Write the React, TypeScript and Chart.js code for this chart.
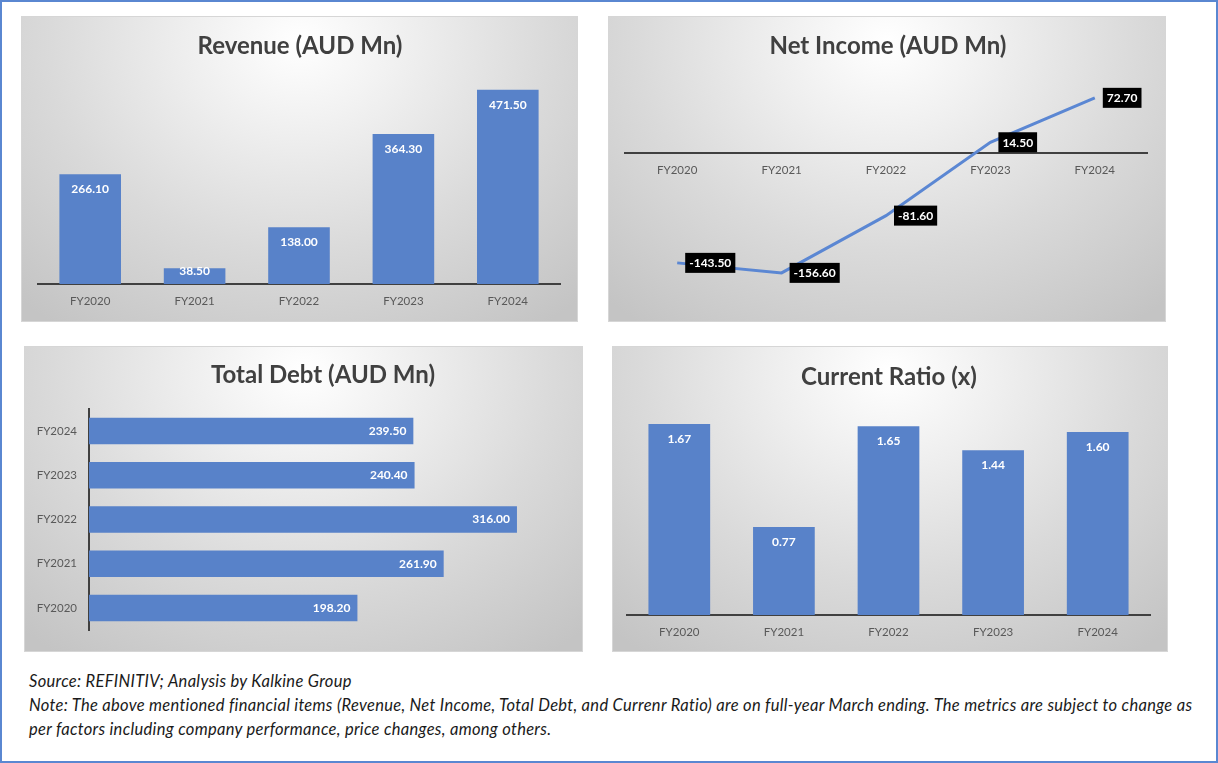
import React, { useEffect, useRef } from 'react';
import { Chart, registerables } from 'chart.js';

Chart.register(...registerables);
Chart.defaults.font.family = 'Lato, "Open Sans", sans-serif';

// ---- Data ----
const categories = ['FY2020', 'FY2021', 'FY2022', 'FY2023', 'FY2024'];
const revenue = [266.1, 38.5, 138.0, 364.3, 471.5];
const netIncome = [-143.5, -156.6, -81.6, 14.5, 72.7];
const totalDebt = [198.2, 261.9, 316.0, 240.4, 239.5];
const currentRatio = [1.67, 0.77, 1.65, 1.44, 1.6];

const titles = ['Revenue (AUD Mn)', 'Net Income (AUD Mn)', 'Total Debt (AUD Mn)', 'Current Ratio (x)'];
const sourceText = 'Source: REFINITIV; Analysis by Kalkine Group';
const noteLine1 =
  'Note: The above mentioned financial items (Revenue, Net Income, Total Debt, and Currenr Ratio) are on full-year March ending. The metrics are subject to change as';
const noteLine2 = 'per factors including company performance, price changes, among others.';

const BAR = '#5882c9';
const LINE = '#5b87d3';
const AXIS = '#404040';
const TICK = '#595959';
const tickFont = { size: 11.5 };

// ---- Plugins ----
const barLabelPlugin = {
  id: 'barLabels',
  afterDatasetsDraw(chart: any, _args: any, opts: any) {
    const ctx = chart.ctx;
    const meta = chart.getDatasetMeta(0);
    const data = chart.data.datasets[0].data;
    ctx.save();
    ctx.font = 'bold 12px Lato, "Open Sans", sans-serif';
    ctx.fillStyle = '#ffffff';
    ctx.textBaseline = 'middle';
    meta.data.forEach((el: any, i: number) => {
      const text = Number(data[i]).toFixed(opts.decimals);
      if (opts.horizontal) {
        ctx.textAlign = 'right';
        ctx.fillText(text, el.x - 7, el.y);
      } else {
        ctx.textAlign = 'center';
        const y = Math.min(el.y + 15, el.base - 13);
        ctx.fillText(text, el.x, y);
      }
    });
    ctx.restore();
  },
};

const lineLabelPlugin = {
  id: 'lineLabels',
  afterDatasetsDraw(chart: any) {
    const ctx = chart.ctx;
    const meta = chart.getDatasetMeta(0);
    const data = chart.data.datasets[0].data;
    ctx.save();
    ctx.font = 'bold 12px Lato, "Open Sans", sans-serif';
    ctx.textBaseline = 'middle';
    ctx.textAlign = 'left';
    meta.data.forEach((el: any, i: number) => {
      const text = Number(data[i]).toFixed(2);
      const w = ctx.measureText(text).width + 8;
      const h = 20;
      const x0 = el.x + 8;
      const y0 = el.y - h / 2;
      ctx.fillStyle = '#000000';
      ctx.fillRect(x0, y0, w, h);
      ctx.fillStyle = '#ffffff';
      ctx.fillText(text, x0 + 4, el.y + 0.5);
    });
    ctx.restore();
  },
};

// ---- Chart configs ----
function revenueConfig(): any {
  return {
    type: 'bar',
    data: {
      labels: categories,
      datasets: [{ data: revenue, backgroundColor: BAR, categoryPercentage: 1, barPercentage: 0.59 }],
    },
    options: {
      animation: false,
      responsive: false,
      devicePixelRatio: 1,
      layout: { padding: { left: 16, right: 17, top: 61, bottom: 0 } },
      plugins: { legend: { display: false }, tooltip: { enabled: false }, barLabels: { decimals: 2 } },
      scales: {
        x: {
          grid: { display: false, drawTicks: false },
          border: { display: true, color: AXIS, width: 2 },
          ticks: { color: TICK, font: tickFont, padding: 10 },
          afterFit: (s: any) => { s.height = 37; },
        },
        y: { display: false, min: 0, max: 500 },
      },
    },
    plugins: [barLabelPlugin],
  };
}

function netIncomeConfig(): any {
  return {
    type: 'line',
    data: {
      labels: categories,
      datasets: [{ data: netIncome, borderColor: LINE, borderWidth: 3, pointRadius: 0, tension: 0 }],
    },
    options: {
      animation: false,
      responsive: false,
      devicePixelRatio: 1,
      layout: { padding: { left: 16, right: 18, top: 60, bottom: 15 } },
      plugins: { legend: { display: false }, tooltip: { enabled: false } },
      scales: {
        x: {
          position: { y: 0 },
          offset: true,
          grid: { display: false, drawTicks: false },
          border: { display: true, color: AXIS, width: 2 },
          ticks: { color: TICK, font: tickFont, padding: 10 },
        },
        y: { display: false, min: -200, max: 100 },
      },
    },
    plugins: [lineLabelPlugin],
  };
}

function debtConfig(): any {
  return {
    type: 'bar',
    data: {
      labels: categories,
      datasets: [{ data: totalDebt, backgroundColor: BAR, categoryPercentage: 1, barPercentage: 0.6 }],
    },
    options: {
      indexAxis: 'y',
      animation: false,
      responsive: false,
      devicePixelRatio: 1,
      layout: { padding: { left: 0, right: 19, top: 62, bottom: 21 } },
      plugins: { legend: { display: false }, tooltip: { enabled: false }, barLabels: { decimals: 2, horizontal: true } },
      scales: {
        y: {
          reverse: true,
          grid: { display: false, drawTicks: false },
          border: { display: true, color: AXIS, width: 2 },
          ticks: { color: TICK, font: tickFont, padding: 12 },
          afterFit: (s: any) => { s.width = 64; },
        },
        x: { display: false, min: 0, max: 350 },
      },
    },
    plugins: [barLabelPlugin],
  };
}

function ratioConfig(): any {
  return {
    type: 'bar',
    data: {
      labels: categories,
      datasets: [{ data: currentRatio, backgroundColor: BAR, categoryPercentage: 1, barPercentage: 0.59 }],
    },
    options: {
      animation: false,
      responsive: false,
      devicePixelRatio: 1,
      layout: { padding: { left: 14, right: 17, top: 62, bottom: 0 } },
      plugins: { legend: { display: false }, tooltip: { enabled: false }, barLabels: { decimals: 2 } },
      scales: {
        x: {
          grid: { display: false, drawTicks: false },
          border: { display: true, color: AXIS, width: 2 },
          ticks: { color: TICK, font: tickFont, padding: 10 },
          afterFit: (s: any) => { s.height = 36; },
        },
        y: { display: false, min: 0, max: 1.8 },
      },
    },
    plugins: [barLabelPlugin],
  };
}

// ---- Components ----
type PanelProps = {
  left: number;
  top: number;
  width: number;
  height: number;
  title: string;
  titleX: number;
  titleY: number;
  makeConfig: () => any;
};

function ChartPanel(p: PanelProps) {
  const ref = useRef<HTMLCanvasElement | null>(null);
  useEffect(() => {
    if (!ref.current) return;
    const chart = new Chart(ref.current, p.makeConfig());
    return () => chart.destroy();
  }, []);
  return (
    <div
      style={{
        position: 'absolute',
        left: p.left,
        top: p.top,
        width: p.width,
        height: p.height,
        boxSizing: 'border-box',
        border: '1px solid #d6d6d6',
        background:
          'radial-gradient(ellipse 75% 115% at 50% 8%, #ffffff 0%, #eeeeee 28%, #dadada 60%, #c4c4c4 100%)',
        overflow: 'hidden',
      }}
    >
      <canvas
        ref={ref}
        width={p.width - 2}
        height={p.height - 2}
        style={{ position: 'absolute', left: 0, top: 0, width: p.width - 2, height: p.height - 2 }}
      />
      <div
        style={{
          position: 'absolute',
          left: p.titleX - 200,
          width: 400,
          top: p.titleY - 15,
          height: 30,
          lineHeight: '30px',
          textAlign: 'center',
          fontFamily: 'Lato, "Open Sans", sans-serif',
          fontWeight: 700,
          fontSize: 24,
          color: '#404040',
          whiteSpace: 'nowrap',
        }}
      >
        {p.title}
      </div>
    </div>
  );
}

export default function App() {
  return (
    <div
      style={{
        position: 'absolute',
        left: 0,
        top: 0,
        width: 1218,
        height: 763,
        boxSizing: 'border-box',
        border: '2px solid #5a87d1',
        background: '#ffffff',
        overflow: 'hidden',
      }}
    >
      <ChartPanel left={19} top={14} width={557} height={306} title={titles[0]} titleX={278} titleY={28} makeConfig={revenueConfig} />
      <ChartPanel left={606} top={14} width={558} height={306} title={titles[1]} titleX={279} titleY={28} makeConfig={netIncomeConfig} />
      <ChartPanel left={22} top={344} width={559} height={306} title={titles[2]} titleX={298} titleY={27} makeConfig={debtConfig} />
      <ChartPanel left={610} top={344} width={556} height={306} title={titles[3]} titleX={276} titleY={29} makeConfig={ratioConfig} />
      <div
        style={{
          position: 'absolute',
          left: 27,
          top: 667,
          fontFamily: 'Lato, "Open Sans", sans-serif',
          fontStyle: 'italic',
          fontSize: 16.5,
          letterSpacing: '0.3px',
          lineHeight: '24px',
          color: '#1a1a1a',
          whiteSpace: 'nowrap',
        }}
      >
        <div>{sourceText}</div>
        <div>{noteLine1}</div>
        <div>{noteLine2}</div>
      </div>
    </div>
  );
}
